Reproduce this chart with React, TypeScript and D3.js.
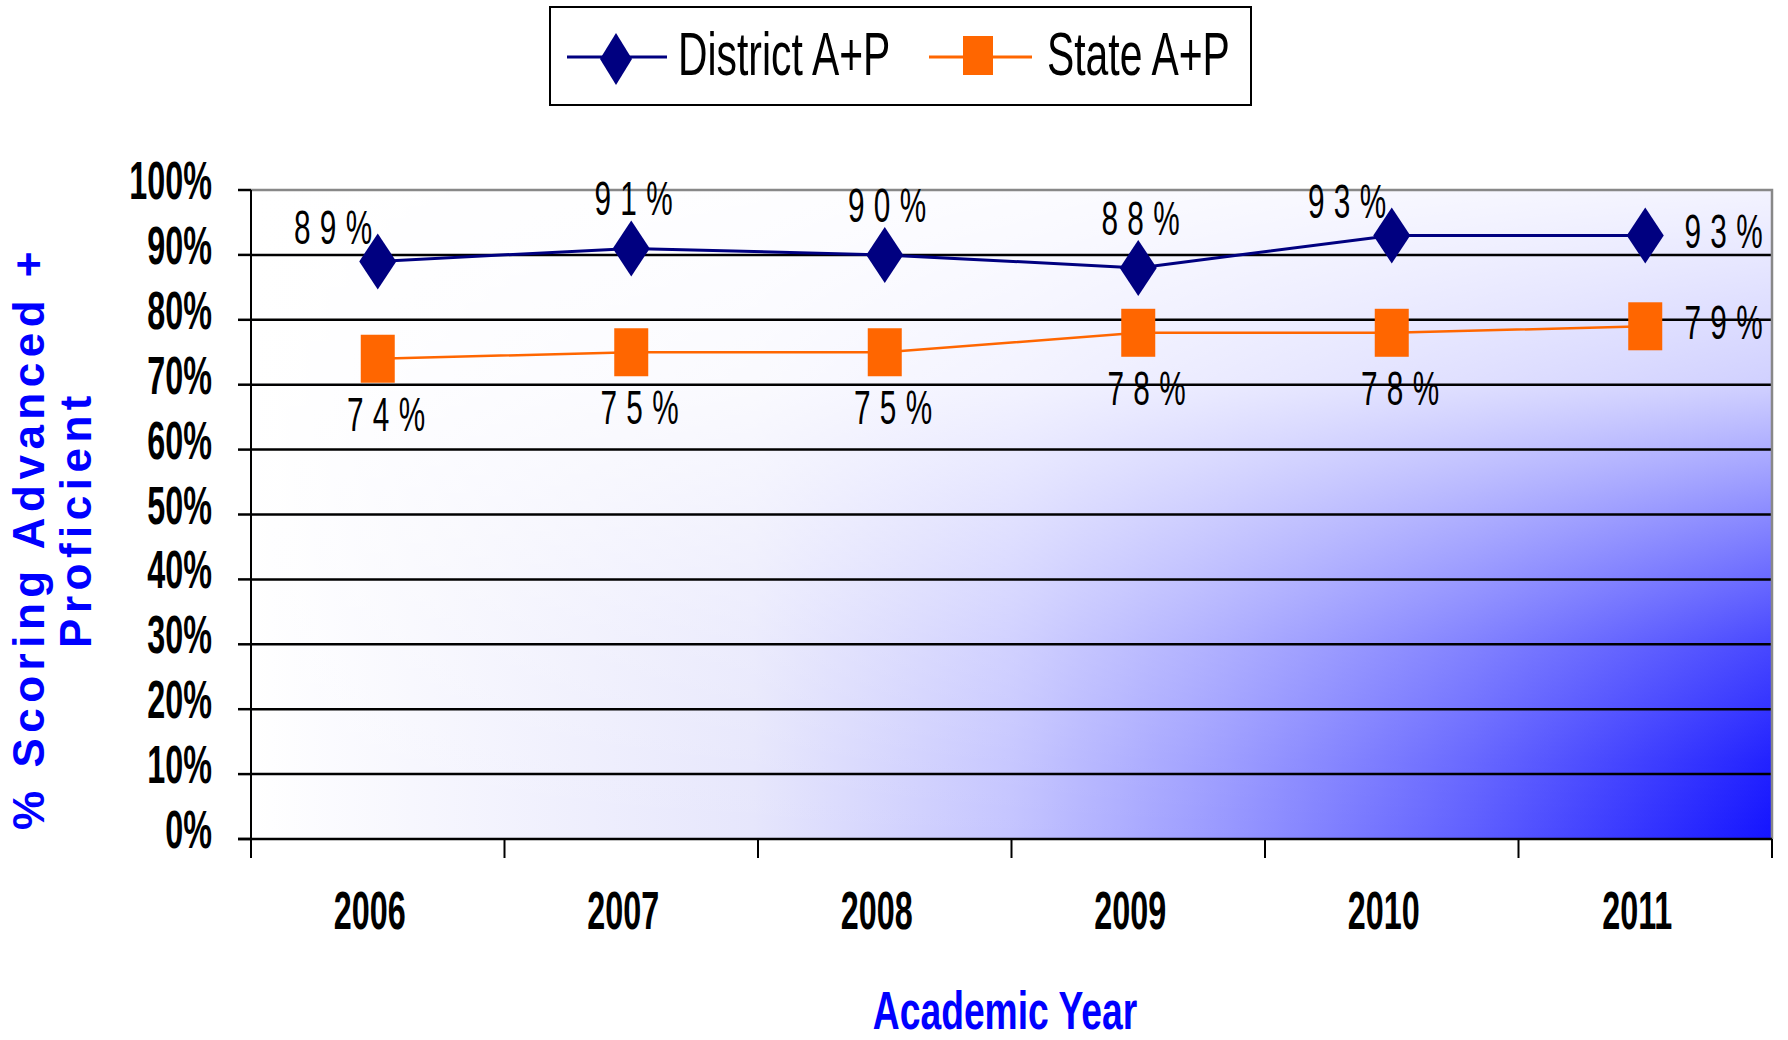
import * as React from "react";
import * as d3 from "d3";

const years = ["2006", "2007", "2008", "2009", "2010", "2011"];
const districtValues = [89, 91, 90, 88, 93, 93];
const stateValues = [74, 75, 75, 78, 78, 79];
const yTicks = [0, 10, 20, 30, 40, 50, 60, 70, 80, 90, 100];

// where Excel put each data label
const districtLabelPos = ["left", "above", "above", "above", "left", "right"];
const stateLabelPos = ["below", "below", "below", "below", "below", "right"];

const NAVY = "#000080";
const ORANGE = "#ff6600";
const BLUE = "#0000ff";
const FONT = "'Liberation Sans', Arial, sans-serif";

const App: React.FC = () => {
    const svgRef = React.useRef<SVGSVGElement | null>(null);

    React.useEffect(() => {
        if (!svgRef.current) return;
        const svg = d3.select(svgRef.current);
        svg.selectAll("*").remove();

        const left = 251, right = 1772, top = 190, bottom = 839;

        const x = d3.scaleBand().domain(years).range([left, right]);
        const y = d3.scaleLinear().domain([0, 100]).range([bottom, top]);
        const cx = (yr: string) => x(yr)! + x.bandwidth() / 2;

        // background gradients
        const defs = svg.append("defs");
        const hg = defs.append("linearGradient").attr("id", "hgrad")
            .attr("x1", 0).attr("y1", 0).attr("x2", 1).attr("y2", 0);
        [[0, "#ffffff"], [0.33, "#e6e6fc"], [0.5, "#c4c4ff"], [0.64, "#9898ff"], [0.8, "#6060ff"], [1, "#1414ff"]]
            .forEach(([o, c]) => hg.append("stop").attr("offset", o as number).attr("stop-color", c as string));
        const vg = defs.append("linearGradient").attr("id", "vgrad")
            .attr("x1", 0).attr("y1", 0).attr("x2", 0).attr("y2", 1);
        [[0, 0.95], [0.3, 0.8], [0.5, 0.5], [0.7, 0.22], [0.88, 0.06], [1, 0]]
            .forEach(([o, a]) => vg.append("stop").attr("offset", o).attr("stop-color", "#ffffff").attr("stop-opacity", a));

        svg.append("rect").attr("x", left).attr("y", top).attr("width", right - left).attr("height", bottom - top)
            .attr("fill", "url(#hgrad)");
        svg.append("rect").attr("x", left).attr("y", top).attr("width", right - left).attr("height", bottom - top)
            .attr("fill", "url(#vgrad)");

        // grid lines
        svg.append("g").selectAll("line")
            .data(yTicks.filter(t => t > 0 && t < 100))
            .enter().append("line")
            .attr("x1", left).attr("x2", right)
            .attr("y1", d => y(d)).attr("y2", d => y(d))
            .attr("stroke", "#000").attr("stroke-width", 2.5);

        // plot border (top/right gray)
        svg.append("path")
            .attr("d", `M${left},${top}H${right}V${bottom}`)
            .attr("fill", "none").attr("stroke", "#888").attr("stroke-width", 2.5);

        // y axis
        svg.append("line").attr("x1", left).attr("x2", left).attr("y1", top).attr("y2", bottom + 19)
            .attr("stroke", "#000").attr("stroke-width", 2);
        svg.append("g").selectAll("line")
            .data(yTicks)
            .enter().append("line")
            .attr("x1", left - 13).attr("x2", left)
            .attr("y1", d => y(d)).attr("y2", d => y(d))
            .attr("stroke", "#000").attr("stroke-width", 2.5);
        svg.append("g").selectAll("text")
            .data(yTicks)
            .enter().append("text")
            .attr("transform", d => `translate(212,${y(d) + 9}) scale(0.61,1)`)
            .attr("text-anchor", "end")
            .style("font-family", FONT).style("font-weight", "bold").style("font-size", "53px")
            .text(d => `${d}%`);

        // x axis
        svg.append("line").attr("x1", left - 13).attr("x2", right).attr("y1", bottom).attr("y2", bottom)
            .attr("stroke", "#000").attr("stroke-width", 2.5);
        const edges = years.map(yr => x(yr)!).concat([right]);
        svg.append("g").selectAll("line")
            .data(edges)
            .enter().append("line")
            .attr("x1", d => d).attr("x2", d => d)
            .attr("y1", bottom).attr("y2", bottom + 19)
            .attr("stroke", "#000").attr("stroke-width", 2);
        svg.append("g").selectAll("text")
            .data(years)
            .enter().append("text")
            .attr("transform", d => `translate(${cx(d) - 8},929) scale(0.61,1)`)
            .attr("text-anchor", "middle")
            .style("font-family", FONT).style("font-weight", "bold").style("font-size", "53px")
            .text(d => d);

        // axis titles
        svg.append("text")
            .attr("transform", "translate(1005,1029) scale(0.69,1)")
            .attr("text-anchor", "middle")
            .style("font-family", FONT).style("font-weight", "bold").style("font-size", "54px")
            .attr("fill", BLUE)
            .text("Academic Year");
        svg.append("text")
            .attr("transform", "translate(44,538) rotate(-90)")
            .attr("text-anchor", "middle")
            .style("font-family", FONT).style("font-weight", "bold").style("font-size", "44px")
            .style("letter-spacing", "5.5px")
            .attr("fill", BLUE)
            .text("% Scoring Advanced +");
        svg.append("text")
            .attr("transform", "translate(91,519) rotate(-90)")
            .attr("text-anchor", "middle")
            .style("font-family", FONT).style("font-weight", "bold").style("font-size", "44px")
            .style("letter-spacing", "5.5px")
            .attr("fill", BLUE)
            .text("Proficient");

        // lines
        const line = d3.line<number>()
            .x((_, i) => cx(years[i]))
            .y(d => y(d));
        svg.append("path").attr("d", line(stateValues)!)
            .attr("fill", "none").attr("stroke", ORANGE).attr("stroke-width", 2.5);
        svg.append("path").attr("d", line(districtValues)!)
            .attr("fill", "none").attr("stroke", NAVY).attr("stroke-width", 3);

        // markers
        const dw = 18.5, dh = 28;
        svg.append("g").selectAll("path")
            .data(districtValues)
            .enter().append("path")
            .attr("d", (d, i) => {
                const px = cx(years[i]), py = y(d);
                return `M${px},${py - dh}L${px + dw},${py}L${px},${py + dh}L${px - dw},${py}Z`;
            })
            .attr("fill", NAVY);
        const sw = 34, sh = 48;
        svg.append("g").selectAll("rect")
            .data(stateValues)
            .enter().append("rect")
            .attr("x", (_, i) => cx(years[i]) - sw / 2)
            .attr("y", d => y(d) - sh / 2)
            .attr("width", sw).attr("height", sh)
            .attr("fill", ORANGE);

        // data labels
        const offsets: Record<string, [number, number]> = {
            left: [-45, -17],
            above: [2, -33],
            right: [78, 13],
            below: [8, 72],
        };
        const addLabels = (vals: number[], pos: string[]) => {
            svg.append("g").selectAll("text")
                .data(vals)
                .enter().append("text")
                .attr("transform", (d, i) => {
                    const [ox, oy] = offsets[pos[i]];
                    return `translate(${cx(years[i]) + ox + 5},${y(d) + oy}) scale(0.62,1)`;
                })
                .attr("text-anchor", "middle")
                .style("font-family", FONT).style("font-size", "48px")
                .style("letter-spacing", "15px")
                .text(d => `${d}%`);
        };
        addLabels(districtValues, districtLabelPos);
        addLabels(stateValues, stateLabelPos);

        // legend
        const lg = svg.append("g");
        lg.append("rect").attr("x", 550).attr("y", 7).attr("width", 701).attr("height", 98)
            .attr("fill", "#fff").attr("stroke", "#000").attr("stroke-width", 2);
        lg.append("line").attr("x1", 567).attr("x2", 667).attr("y1", 57).attr("y2", 57)
            .attr("stroke", NAVY).attr("stroke-width", 3);
        lg.append("path").attr("d", "M616,33L632,59L616,85L600,59Z").attr("fill", NAVY);
        lg.append("text")
            .attr("transform", "translate(678,75) scale(0.67,1)")
            .style("font-family", FONT).style("font-size", "61px")
            .text("District A+P");
        lg.append("line").attr("x1", 929).attr("x2", 1032).attr("y1", 57).attr("y2", 57)
            .attr("stroke", ORANGE).attr("stroke-width", 3);
        lg.append("rect").attr("x", 963).attr("y", 36).attr("width", 30).attr("height", 39).attr("fill", ORANGE);
        lg.append("text")
            .attr("transform", "translate(1047,75) scale(0.67,1)")
            .style("font-family", FONT).style("font-size", "61px")
            .text("State A+P");
    }, []);

    return (
        <svg
            ref={svgRef}
            width={1788}
            height={1040}
            style={{ position: "absolute", left: 0, top: 0, background: "#fff" }}
        />
    );
};

export default App;
